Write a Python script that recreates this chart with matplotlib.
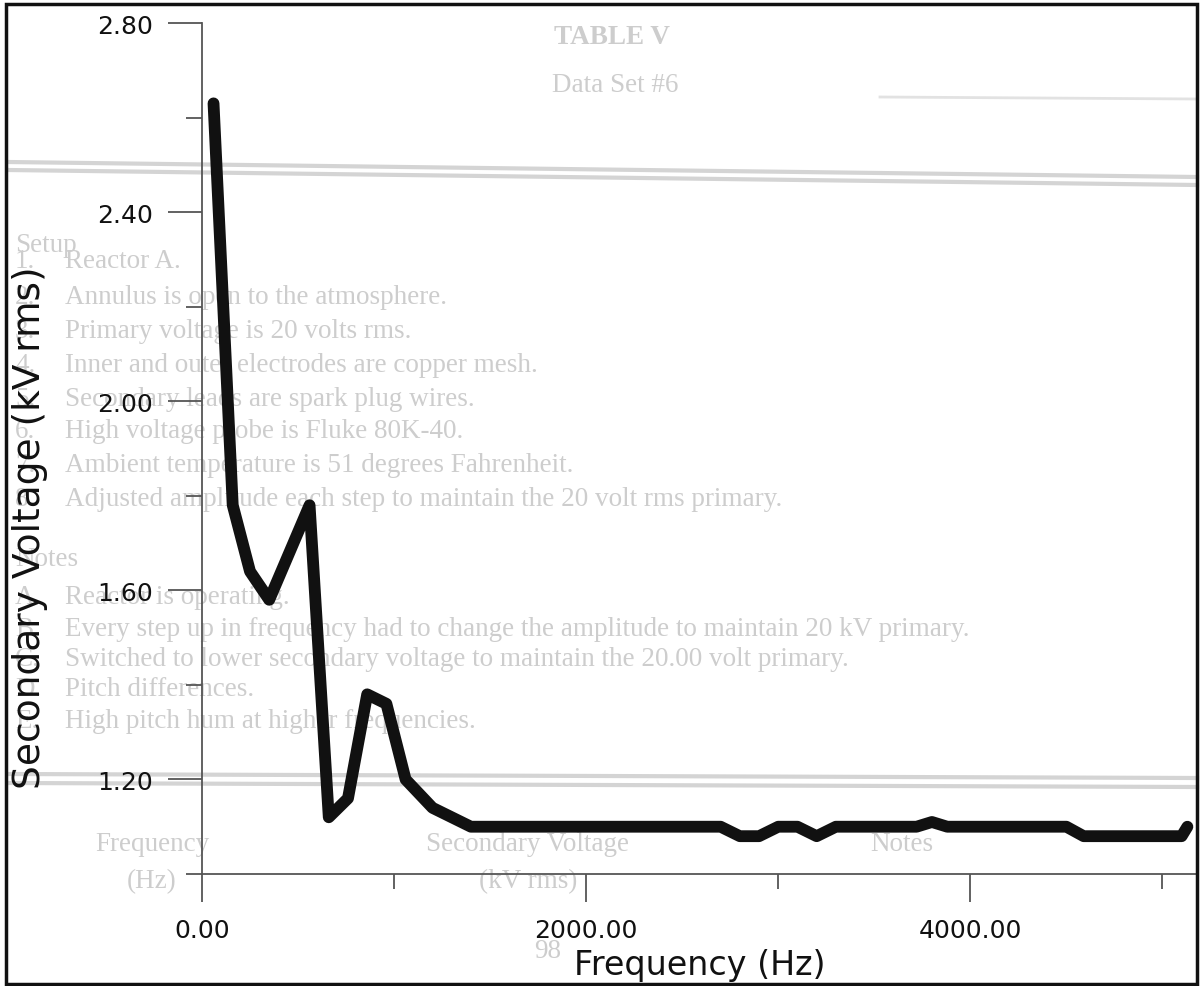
import matplotlib
matplotlib.use('Agg')
import matplotlib.pyplot as plt
from matplotlib.patches import Rectangle
from matplotlib.lines import Line2D

# secondary voltage against drive frequency
freq_hz = [60, 160, 250, 350, 560, 660, 760, 860, 960, 1060, 1200, 1400,
           2700, 2800, 2900, 3000, 3100, 3200, 3300, 3720, 3800, 3880,
           4500, 4590, 5100, 5130]
voltage_kv = [2.63, 1.78, 1.64, 1.58, 1.78, 1.12, 1.16, 1.38, 1.36, 1.20, 1.14, 1.10,
              1.10, 1.08, 1.08, 1.10, 1.10, 1.08, 1.10, 1.10, 1.11, 1.10,
              1.10, 1.08, 1.08, 1.10]

x_major = [0, 2000, 4000]
x_minor = [1000, 3000, 5000]
y_major = [1.20, 1.60, 2.00, 2.40, 2.80]
y_minor = [1.00, 1.40, 1.80, 2.20, 2.60]

# faint print showing through from the page behind
page_title = ["TABLE V", "Data Set #6"]
setup_items = ["Reactor A.",
               "Annulus is open to the atmosphere.",
               "Primary voltage is 20 volts rms.",
               "Inner and outer electrodes are copper mesh.",
               "Secondary leads are spark plug wires.",
               "High voltage probe is Fluke 80K-40.",
               "Ambient temperature is 51 degrees Fahrenheit.",
               "Adjusted amplitude each step to maintain the 20 volt rms primary."]
note_items = ["Reactor is operating.",
              "Every step up in frequency had to change the amplitude to maintain 20 kV primary.",
              "Switched to lower secondary voltage to maintain the 20.00 volt primary.",
              "Pitch differences.",
              "High pitch hum at higher frequencies."]
note_marks = ["A.", "B.", "C.", "D.", "E."]
table_heads = ["Frequency", "Secondary Voltage", "Notes"]
table_units = ["(Hz)", "(kV rms)"]
page_number = "98"

W, H = 1203, 987


def fx(px):
    return px / W


def fy(py):
    return 1 - py / H


def main():
    fig = plt.figure(figsize=(W / 100, H / 100), dpi=100)
    ax = fig.add_axes([fx(202), fy(875), (1197 - 202) / W, (875 - 24) / H])
    ax.patch.set_alpha(0)

    ghost = dict(color='#cdcdcd', family='Liberation Serif', fontsize=19.5, zorder=-1)
    fig.text(fx(612), fy(38), page_title[0], ha='center', va='center',
             fontweight='bold', **ghost)
    fig.text(fx(615), fy(85), page_title[1], ha='center', va='center', **ghost)
    fig.text(fx(15), fy(245), "Setup", ha='left', va='center', **ghost)
    setup_y = [262, 297, 331, 365, 399, 432, 466, 500]
    for i, (txt, yy) in enumerate(zip(setup_items, setup_y)):
        fig.text(fx(15), fy(yy), "%d." % (i + 1), ha='left', va='center', **ghost)
        fig.text(fx(65), fy(yy), txt, ha='left', va='center', **ghost)
    fig.text(fx(15), fy(560), "Notes", ha='left', va='center', **ghost)
    note_y = [597, 630, 660, 690, 722]
    for mark, txt, yy in zip(note_marks, note_items, note_y):
        fig.text(fx(15), fy(yy), mark, ha='left', va='center', **ghost)
        fig.text(fx(65), fy(yy), txt, ha='left', va='center', **ghost)
    for txt, xx in zip(table_heads, [152, 528, 902]):
        fig.text(fx(xx), fy(845), txt, ha='center', va='center', **ghost)
    for txt, xx in zip(table_units, [152, 528]):
        fig.text(fx(xx), fy(882), txt, ha='center', va='center', **ghost)
    fig.text(fx(548), fy(952), page_number, ha='center', va='center', **ghost)

    # rule lines of the table page
    for y0, y1 in [(163, 178), (171, 186), (775, 779), (784, 788)]:
        fig.add_artist(Line2D([fx(8), fx(1197)], [fy(y0), fy(y1)],
                              color='#d4d4d4', lw=3, zorder=-1))
    fig.add_artist(Line2D([fx(880), fx(1197)], [fy(98), fy(100)],
                          color='#e2e2e2', lw=2, zorder=-1))

    ax.plot(freq_hz, voltage_kv, color='#111111', lw=8.5,
            solid_joinstyle='round', solid_capstyle='round', zorder=3, clip_on=False)

    ax.set_xlim(0, 5180)
    ax.set_ylim(1.0, 2.8)
    for s in ['top', 'right']:
        ax.spines[s].set_visible(False)
    for s in ['left', 'bottom']:
        ax.spines[s].set_color('#555555')
        ax.spines[s].set_linewidth(1.3)

    ax.set_xticks(x_major)
    ax.set_xticks(x_minor, minor=True)
    ax.set_xticklabels(['%.2f' % v for v in x_major])
    ax.set_yticks(y_major)
    ax.set_yticks(y_minor, minor=True)
    ax.set_yticklabels(['%.2f' % v for v in y_major])

    ax.tick_params(axis='both', which='both', direction='out', color='#555555',
                   width=1.3, labelsize=18, labelcolor='#111111')
    ax.tick_params(axis='y', which='major', length=24.5, pad=11)
    ax.tick_params(axis='y', which='minor', length=11.5)
    ax.tick_params(axis='x', which='major', length=20, pad=12)
    ax.tick_params(axis='x', which='minor', length=11)

    fig.text(fx(700), fy(966), "Frequency (Hz)", ha='center', va='center',
             fontsize=24, color='#111111')
    fig.text(fx(30), fy(528), "Secondary Voltage (kV rms)", ha='center', va='center',
             rotation=90, fontsize=27, color='#111111')

    fig.add_artist(Rectangle((fx(6), fy(985)), (1197 - 6) / W, (985 - 5) / H,
                             fill=False, ec='#111111', lw=2.5,
                             transform=fig.transFigure))

    fig.savefig('out.png', dpi=100)


if __name__ == '__main__':
    main()
